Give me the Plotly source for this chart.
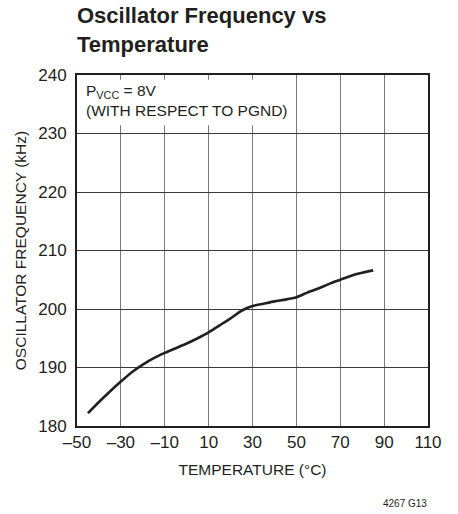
import plotly.graph_objects as go

temperature_c = [-45, -40, -35, -30, -25, -20, -15, -10, -5, 0, 5, 10, 15, 20, 25,
                 30, 35, 40, 45, 50, 55, 60, 65, 70, 75, 80, 85]
frequency_khz = [182.2, 184.1, 185.9, 187.6, 189.2, 190.5, 191.6, 192.5, 193.3, 194.1,
                 195.0, 196.0, 197.2, 198.4, 199.7, 200.5, 200.9, 201.3, 201.6, 202.0,
                 202.8, 203.5, 204.3, 205.0, 205.7, 206.2, 206.6]

x_tick_vals = [-50, -30, -10, 10, 30, 50, 70, 90, 110]
x_tick_text = ["\u201350", "\u201330", "\u201310", "10", "30", "50", "70", "90", "110"]
y_tick_vals = [180, 190, 200, 210, 220, 230, 240]
y_tick_text = ["180", "190", "200", "210", "220", "230", "240"]

FONT = "Liberation Sans, Arial, Helvetica, sans-serif"
INK = "#231f20"

# plot area in pixels
L, R, T, B = 77, 428, 75, 426
PW, PH = R - L, B - T


def px_x(px):
    return (px - L) / PW


def px_y(py):
    return (B - py) / PH


fig = go.Figure()
fig.add_trace(go.Scatter(
    x=temperature_c, y=frequency_khz, mode="lines",
    line=dict(color=INK, width=2.6, shape="spline", smoothing=0.6),
    showlegend=False, hoverinfo="skip",
))

fig.update_layout(
    width=458, height=514,
    margin=dict(l=L, r=458 - R, t=T, b=514 - B),
    paper_bgcolor="white", plot_bgcolor="white",
    font=dict(family=FONT, size=16, color=INK),
    xaxis=dict(
        range=[-50, 110], tickvals=x_tick_vals, ticktext=x_tick_text,
        showgrid=True, gridcolor="#7a7a7a", gridwidth=1,
        showline=True, linecolor=INK, linewidth=2, mirror=True,
        ticks="", zeroline=False,
        title=dict(text="TEMPERATURE (\u00b0C)", standoff=13, font=dict(size=15.5)),
        tickfont=dict(size=17),
    ),
    yaxis=dict(
        range=[180, 240], tickvals=y_tick_vals, ticktext=y_tick_text,
        showgrid=True, gridcolor="#3a3a3a", gridwidth=1,
        showline=True, linecolor=INK, linewidth=2, mirror=True,
        ticks="", zeroline=False, ticklabelstandoff=5,
        title=dict(text="OSCILLATOR FREQUENCY (kHz)", standoff=8, font=dict(size=15.5)),
        tickfont=dict(size=17),
    ),
)

fig.add_shape(type="rect", xref="x", yref="y", x0=-49.4, x1=47, y0=231.4, y1=239.2,
              fillcolor="white", line=dict(width=0), layer="above")

fig.add_annotation(
    xref="paper", yref="paper", x=px_x(84), y=px_y(80),
    xanchor="left", yanchor="top", align="left", showarrow=False,
    text="P<sub>VCC</sub> = 8V<br>(WITH RESPECT TO PGND)",
    font=dict(family=FONT, size=15.5, color=INK),
)

fig.add_annotation(
    xref="paper", yref="paper", x=px_x(75), y=px_y(1),
    xanchor="left", yanchor="top", align="left", showarrow=False,
    text="<b>Oscillator Frequency vs</b><br><b>Temperature</b>",
    font=dict(family=FONT, size=22, color=INK),
)

fig.add_annotation(
    xref="paper", yref="paper", x=px_x(429), y=px_y(503.5),
    xanchor="right", yanchor="middle", showarrow=False,
    text="4267 G13", font=dict(family=FONT, size=10, color=INK),
)

fig.write_html("out.html", config={"displayModeBar": False},
               post_script="document.body.style.margin='0';")
